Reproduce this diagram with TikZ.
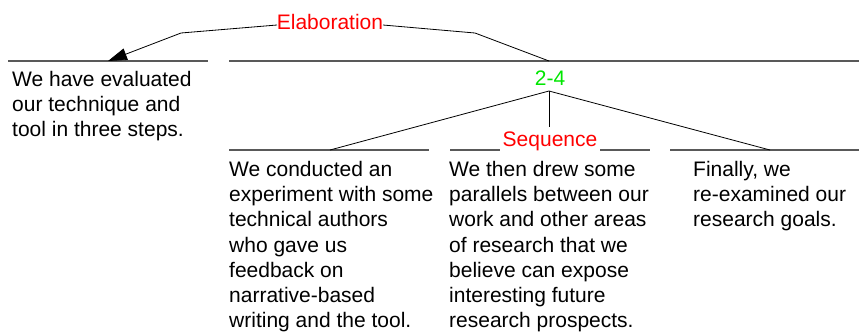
\documentclass[tikz,border=0pt]{standalone}
\usepackage{fontspec}
\setmainfont{Liberation Sans}
\usetikzlibrary{arrows.meta}
\begin{document}
\begin{tikzpicture}[x=1pt,y=-1pt,
  txt/.style={font=\fontsize{21}{25.2}\selectfont, align=left, inner sep=0pt, anchor=north west},
  lbl/.style={font=\fontsize{21}{24}\selectfont, inner sep=0pt, anchor=base},
  span/.style={line width=1.2pt, black!65},
  conn/.style={line width=0.8pt, black}]
\useasboundingbox (0,0) rectangle (859,335);
% spans
\coordinate (s0l) at (8,61);
\coordinate (s0r) at (208,61);
\coordinate (s1l) at (229,61);
\coordinate (s1r) at (859,61);
\coordinate (c1l) at (229,150);
\coordinate (c1r) at (429,150);
\coordinate (c2l) at (450,150);
\coordinate (c2m1) at (500,150);
\coordinate (c2m2) at (600,150);
\coordinate (c2r) at (650,150);
\coordinate (c3l) at (670,150);
\coordinate (c3r) at (859,150);
\draw[span] (s0l) -- (s0r);
\draw[span] (s1l) -- (s1r);
\draw[span] (c1l) -- (c1r);
\draw[span] (c2l) -- (c2m1);
\draw[span] (c2m2) -- (c2r);
\draw[span] (c3l) -- (c3r);
% labels
\node[lbl, text=red] (elab) at (330,29.3) {Elaboration};
\node[lbl, text={rgb,255:red,0;green,230;blue,0}] (rng) at (550,85) {2-4};
\node[lbl, text=red] (seq) at (550,146.5) {Sequence};
% texts
\node[txt] (t0) at (12,71) {We have evaluated\\our technique and\\tool in three steps.};
\node[txt] (t1) at (229,161) {We conducted an\\experiment with some\\technical authors\\who gave us\\feedback on\\narrative-based\\writing and the tool.};
\node[txt] (t2) at (449,161) {We then drew some\\parallels between our\\work and other areas\\of research that we\\believe can expose\\interesting future\\research prospects.};
\node[txt] (t3) at (693,161) {Finally, we\\re-examined our\\research goals.};
% connectors
\coordinate (eL) at (277,25);
\coordinate (eR) at (383,25);
\coordinate (b1) at (181,33);
\coordinate (b2) at (475,33);
\coordinate (tipL) at (108,61);
\coordinate (tipR) at (549,61);
\coordinate (apex) at (549,91);
\coordinate (vEnd) at (549,127);
\coordinate (a1) at (330,150);
\coordinate (a3) at (770,150);
\draw[conn, -{Triangle[length=19pt,width=12pt]}] (eL) -- (b1) -- (tipL);
\draw[conn] (eR) -- (b2) -- (tipR);
\draw[conn] (apex) -- (a1);
\draw[conn] (apex) -- (a3);
\draw[conn] (apex) -- (vEnd);
\end{tikzpicture}
\end{document}
